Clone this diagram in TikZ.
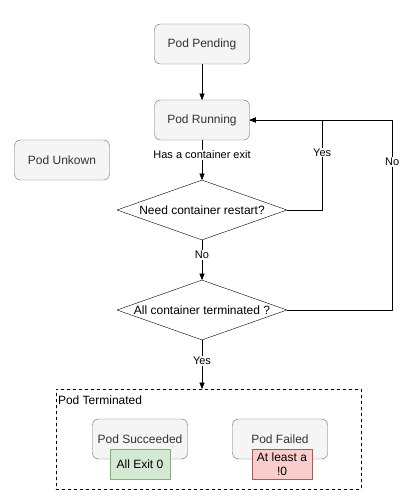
\documentclass[tikz,border=0pt]{standalone}
\usepackage{fontspec}
\setmainfont{Liberation Sans}
\usetikzlibrary{arrows,shapes.geometric}

\definecolor{podfill}{HTML}{F5F5F5}
\definecolor{podline}{HTML}{666666}
\definecolor{podtext}{HTML}{333333}
\definecolor{okfill}{HTML}{D5E8D4}
\definecolor{okline}{HTML}{82B366}
\definecolor{badfill}{HTML}{F8CECC}
\definecolor{badline}{HTML}{B85450}

\begin{document}
\begin{tikzpicture}[x=1pt, y=-1pt, line cap = round, line join = round, >=triangle 45]
\tikzstyle{phase}=[rectangle, rounded corners=6pt, draw=podline, fill=podfill, text=podtext, minimum width=95pt, minimum height=40pt, font=\fontsize{12}{14}\selectfont]
\tikzstyle{decision}=[diamond, draw=black, fill=white, inner sep=0pt, minimum width=170pt, minimum height=60pt, aspect=2.83]
\tikzstyle{exitcode}=[rectangle, minimum width=60pt, minimum height=30pt, align=center, inner sep=1pt, font=\fontsize{12}{14}\selectfont]
\tikzstyle{edgelabel}=[fill=white, inner sep=1pt, font=\fontsize{11}{13}\selectfont]
\useasboundingbox (0,0) rectangle (417,502);

\node[phase] (pending) at (202,44) {Pod Pending};
\node[phase] (running) at (202,120) {Pod Running};
\node[phase] (unknown) at (62,160) {Pod Unkown};
\node[decision, label={[font=\fontsize{12}{14}\selectfont]center:Need container restart?}] (restart) at (202,210) {};
\node[decision, label={[font=\fontsize{12}{14}\selectfont]center:All container terminated ?}] (allterm) at (202,310) {};

\node[rectangle, dashed, draw=black, minimum width=305pt, minimum height=100pt] (terminated) at (208.5,439) {};
\node[anchor=north west, inner sep=0pt, font=\fontsize{12}{14}\selectfont] (termlabel) at ([shift={(2,7)}]terminated.north west) {Pod Terminated};
\node[phase] (succeeded) at (140,439) {Pod Succeeded};
\node[phase] (failed) at (280,439) {Pod Failed};
\node[exitcode, draw=okline, fill=okfill] (allzero) at (140,464) {All Exit 0};
\node[exitcode, draw=badline, fill=badfill] (notzero) at (282,464) {At least a\\!0};

\draw[->,color=black] (pending) -- (running);
\draw[->,color=black] (running) -- (restart.north) node[edgelabel, pos=0.375]{Has a container exit};
\draw[->,color=black] (restart.south) -- (allterm.north) node[edgelabel, pos=0.375]{No};
\draw[->,color=black] (allterm.south) -- (allterm.south |- terminated.north) node[edgelabel, pos=0.43]{Yes};
\draw[->,color=black] (restart.east) -- ++(35,0) |- (running.east) node[edgelabel, pos=0.32]{Yes};
\draw[->,color=black] (allterm.east) -- ++(105,0) |- (running.east) node[edgelabel, pos=0.39]{No};
\end{tikzpicture}
\end{document}
